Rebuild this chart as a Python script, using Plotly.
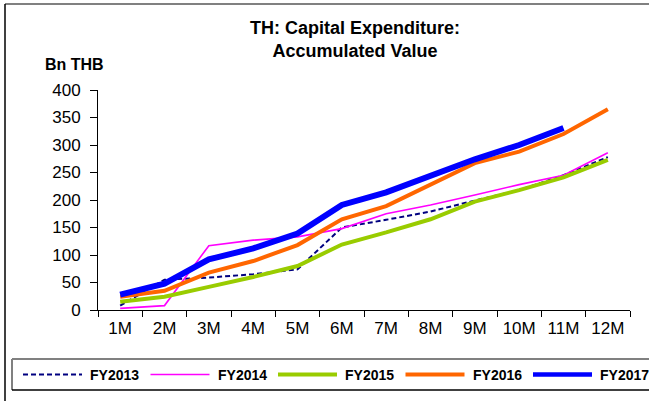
import plotly.graph_objects as go

# Months of the fiscal year
months = ["1M", "2M", "3M", "4M", "5M", "6M", "7M", "8M", "9M", "10M", "11M", "12M"]

# Accumulated capital expenditure, Bn THB
fy2013 = [8, 55, 59, 65, 74, 150, 164, 179, 199, 218, 245, 278]
fy2014 = [3, 8, 117, 127, 133, 148, 175, 191, 209, 228, 245, 286]
fy2015 = [15, 24, 42, 60, 80, 119, 141, 165, 197, 218, 241, 273]
fy2016 = [24, 35, 68, 89, 118, 165, 189, 227, 267, 288, 320, 365]
fy2017 = [28, 48, 92, 112, 139, 191, 214, 245, 274, 300, 331, None]

series_names = ["FY2013", "FY2014", "FY2015", "FY2016", "FY2017"]
series_values = [fy2013, fy2014, fy2015, fy2016, fy2017]
series_colors = ["#000080", "#FF00FF", "#99CC00", "#FF6600", "#0000FF"]
series_widths = [2, 1.6, 4, 4, 6]
series_dash = ["dash", "solid", "solid", "solid", "solid"]

W, H = 649, 401
L, R, T, B = 98, 19, 90, 91
PW, PH = W - L - R, H - T - B

FONT = "Arial, Liberation Sans, sans-serif"


def px(xp):
    return (xp - L) / PW


def py(yp):
    return (H - B - yp) / PH


fig = go.Figure()
for name, vals, col, wd, dash in zip(series_names, series_values, series_colors,
                                     series_widths, series_dash):
    fig.add_trace(go.Scatter(
        x=months, y=vals, name=name, mode="lines",
        line=dict(color=col, width=wd, dash="5px,3px" if dash == "dash" else "solid"),
        showlegend=False, connectgaps=False,
    ))

shapes = []
annotations = []

# outer frame: grey top edge, black left edge
shapes.append(dict(type="line", xref="paper", yref="paper",
                   x0=px(5), x1=px(660), y0=py(4), y1=py(4),
                   line=dict(color="#808080", width=2)))
shapes.append(dict(type="line", xref="paper", yref="paper",
                   x0=px(5), x1=px(5), y0=py(4), y1=py(410),
                   line=dict(color="#000000", width=1.5)))

# legend box
lx0, lx1, ly0, ly1 = 12, 660, 359, 390
shapes.append(dict(type="line", xref="paper", yref="paper",
                   x0=px(lx0), x1=px(lx1), y0=py(ly0), y1=py(ly0),
                   line=dict(color="#808080", width=2)))
shapes.append(dict(type="line", xref="paper", yref="paper",
                   x0=px(lx0), x1=px(lx0), y0=py(ly0), y1=py(ly1),
                   line=dict(color="#808080", width=2)))
shapes.append(dict(type="line", xref="paper", yref="paper",
                   x0=px(lx0), x1=px(lx1), y0=py(ly1), y1=py(ly1),
                   line=dict(color="#000000", width=1.5)))

ly = (ly0 + ly1) / 2
for i, (name, col, wd, dash) in enumerate(zip(series_names, series_colors,
                                             series_widths, series_dash)):
    x0 = 23 + 127.5 * i
    shapes.append(dict(type="line", xref="paper", yref="paper",
                       x0=px(x0), x1=px(x0 + 59), y0=py(ly), y1=py(ly),
                       line=dict(color=col, width=min(wd, 4.5) if wd > 2 else wd,
                                 dash="5px,3px" if dash == "dash" else "solid")))
    annotations.append(dict(xref="paper", yref="paper", x=px(x0 + 65), y=py(ly),
                            xanchor="left", yanchor="middle", showarrow=False,
                            text="<b>%s</b>" % name,
                            font=dict(family=FONT, size=14, color="#000000")))

annotations.append(dict(xref="paper", yref="paper", x=px(355), y=py(40),
                        xanchor="center", yanchor="middle", showarrow=False,
                        text="<b>TH: Capital Expenditure:<br>Accumulated Value</b>",
                        font=dict(family=FONT, size=18, color="#000000")))
annotations.append(dict(xref="paper", yref="paper", x=px(74), y=py(64),
                        xanchor="center", yanchor="middle", showarrow=False,
                        text="<b>Bn THB</b>",
                        font=dict(family=FONT, size=16, color="#000000")))

fig.update_layout(
    width=W, height=H,
    margin=dict(l=L, r=R, t=T, b=B),
    paper_bgcolor="white", plot_bgcolor="white",
    font=dict(family=FONT, size=17, color="#000000"),
    shapes=shapes, annotations=annotations,
    showlegend=False,
    xaxis=dict(type="category", range=[-0.5, 11.5], tickson="boundaries",
               ticks="outside", ticklen=6, tickcolor="#000000", tickwidth=1,
               showline=True, linecolor="#000000", linewidth=1,
               showgrid=False, zeroline=False, fixedrange=True,
               ticklabelstandoff=3,
               tickfont=dict(family=FONT, size=17)),
    yaxis=dict(range=[0, 400], dtick=50, ticks="outside", ticklen=7,
               tickcolor="#000000", tickwidth=1,
               showline=True, linecolor="#000000", linewidth=1,
               showgrid=False, zeroline=False, fixedrange=True,
               ticklabelstandoff=6,
               tickfont=dict(family=FONT, size=17)),
)

fig.write_html("out.html")
